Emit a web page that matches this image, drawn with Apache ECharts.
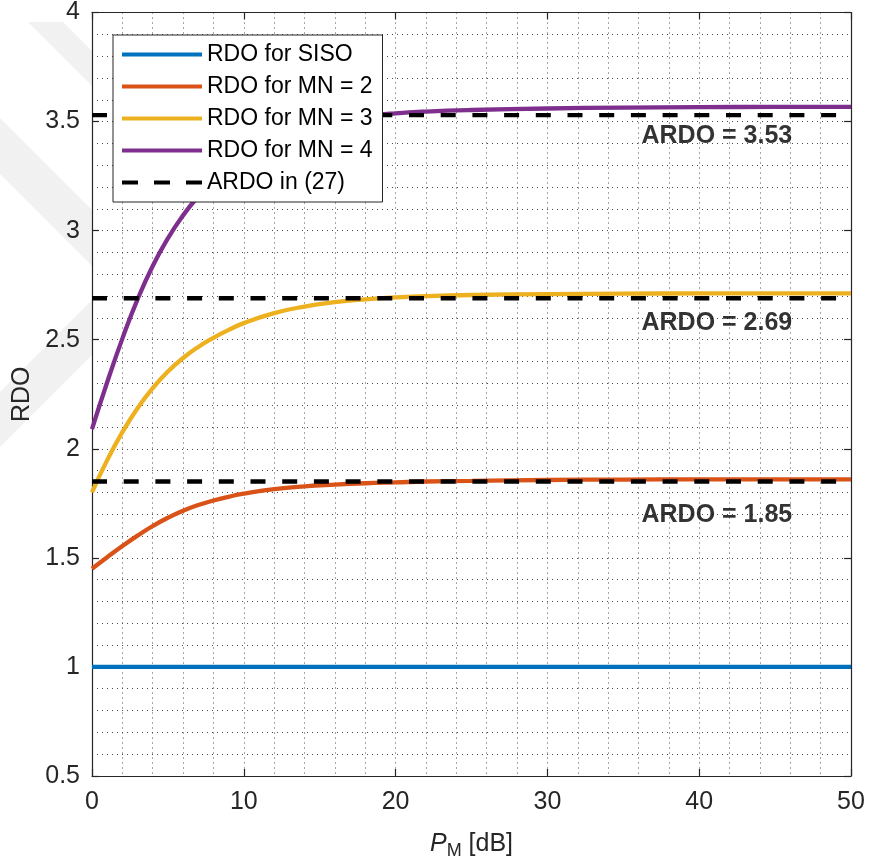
<!DOCTYPE html>
<html>
<head>
<meta charset="utf-8">
<script src="https://cdn.jsdelivr.net/npm/echarts@6/dist/echarts.min.js"></script>
<style>
  html, body { margin: 0; padding: 0; background: #fff; }
  #chart { width: 872px; height: 867px; }
</style>
</head>
<body>
<div id="chart"></div>
<script>
// ---- data ----
const pm = [0, 1, 2, 3, 4, 5, 6, 7, 8, 9, 10, 12, 14, 16, 18, 20, 22, 25, 30, 35, 40, 45, 50];
const rdoMN2 = [1.45, 1.503, 1.554, 1.602, 1.646, 1.684, 1.716, 1.742, 1.763, 1.780, 1.794, 1.815, 1.828, 1.836, 1.842, 1.846, 1.850, 1.853, 1.857, 1.859, 1.86, 1.86, 1.86];
const rdoMN3 = [1.80, 1.948, 2.076, 2.186, 2.278, 2.354, 2.416, 2.467, 2.509, 2.545, 2.576, 2.622, 2.652, 2.672, 2.685, 2.694, 2.700, 2.705, 2.709, 2.711, 2.712, 2.712, 2.712];
const rdoMN4 = [2.09, 2.305, 2.505, 2.685, 2.838, 2.965, 3.07, 3.158, 3.232, 3.294, 3.346, 3.425, 3.474, 3.505, 3.525, 3.538, 3.546, 3.553, 3.56, 3.564, 3.566, 3.567, 3.567];
const sisoX = [0, 50];
const rdoSISO = [1, 1];
const ardoValues = [3.53, 2.69, 1.85];
const ardoX = [0, 50];
const annoText = ['ARDO = 3.53', 'ARDO = 2.69', 'ARDO = 1.85'];
const annoX = [36.2, 36.2, 36.2];
const annoY = [3.432, 2.577, 1.694];
const xTicks = [0, 10, 20, 30, 40, 50];
const yTicks = [0.5, 1, 1.5, 2, 2.5, 3, 3.5, 4];
const seriesNames = ['RDO for SISO', 'RDO for MN = 2', 'RDO for MN = 3', 'RDO for MN = 4', 'ARDO in (27)'];
const colors = ['#0072BD', '#D95319', '#EDB120', '#7E2F8E', '#000000'];

const FONT = '"Liberation Sans", Arial, Helvetica, sans-serif';
const AXC = '#262626';
const GRIDC = '#4a4a4a';

function pairs(xs, ys) { return xs.map((x, i) => [x, ys[i]]); }

const chart = echarts.init(document.getElementById('chart'), null, { renderer: 'canvas' });

const dottedMajor = { show: true, lineStyle: { color: GRIDC, width: 1, type: [1, 4] } };
const dottedMinor = { show: true, lineStyle: { color: GRIDC, width: 1, type: [1, 4] } };

function curve(name, ys, color) {
  return {
    name: name, type: 'line', xAxisIndex: 0, yAxisIndex: 0,
    data: pairs(pm, ys), symbol: 'none', showSymbol: false,
    smooth: 0.5,
    lineStyle: { color: color, width: 4.3 }, itemStyle: { color: color },
    emphasis: { disabled: true }, silent: true, z: 3
  };
}

const series = [
  {
    name: seriesNames[0], type: 'line', data: pairs(sisoX, rdoSISO), symbol: 'none',
    lineStyle: { color: colors[0], width: 4.3 }, itemStyle: { color: colors[0] },
    emphasis: { disabled: true }, silent: true, z: 3
  },
  curve(seriesNames[1], rdoMN2, colors[1]),
  curve(seriesNames[2], rdoMN3, colors[2]),
  curve(seriesNames[3], rdoMN4, colors[3])
];
ardoValues.forEach(v => {
  series.push({
    name: seriesNames[4], type: 'line', data: pairs(ardoX, [v, v]), symbol: 'none',
    lineStyle: { color: colors[4], width: 4.3, type: [15, 16.7] }, itemStyle: { color: colors[4] },
    emphasis: { disabled: true }, silent: true, z: 4
  });
});
series.push({
  name: 'annotations', type: 'scatter', data: pairs(annoX, annoY), symbolSize: 0,
  silent: true, z: 5,
  label: {
    show: true, position: 'inside', align: 'left', verticalAlign: 'middle',
    formatter: p => annoText[p.dataIndex],
    color: '#000', fontFamily: FONT, fontWeight: 'bold', fontSize: 25
  }
});

const dashIcon = 'path://M0,0H16V4H0Z M32,0H48V4H32Z M64,0H80V4H64Z';

const option = {
  animation: false,
  backgroundColor: '#fff',
  textStyle: { fontFamily: FONT },
  graphic: [
    { type: 'polygon', z: -10, silent: true, shape: { points: [[28, 22], [63, 22], [92, 51], [92, 86]] }, style: { fill: '#f1f1f1' } },
    { type: 'polygon', z: -10, silent: true, shape: { points: [[0, 118], [0, 174], [92, 266], [92, 210]] }, style: { fill: '#f1f1f1' } },
    { type: 'polygon', z: -10, silent: true, shape: { points: [[92, 300], [92, 355], [0, 447], [0, 392]] }, style: { fill: '#f1f1f1' } }
  ],
  grid: { left: 92, right: 21, top: 11, bottom: 91, containLabel: false, show: true, backgroundColor: '#fff', borderWidth: 0 },
  legend: {
    data: [
      { name: seriesNames[0], icon: 'rect' },
      { name: seriesNames[1], icon: 'rect' },
      { name: seriesNames[2], icon: 'rect' },
      { name: seriesNames[3], icon: 'rect' },
      { name: seriesNames[4], icon: dashIcon }
    ],
    z: 20,
    orient: 'vertical', left: 113, top: 35,
    padding: [8, 10, 8, 9], itemGap: 9, itemWidth: 80, itemHeight: 4,
    backgroundColor: '#fff', borderColor: AXC, borderWidth: 1, borderRadius: 0,
    selectedMode: false,
    itemStyle: { borderWidth: 0 },
    textStyle: { fontFamily: FONT, fontSize: 23, lineHeight: 23, color: '#000' }
  },
  xAxis: [
    {
      type: 'value', min: 0, max: 50, interval: 10, position: 'bottom',
      name: '{i|P}{s|M} [dB]', nameLocation: 'middle', nameGap: 52,
      nameTextStyle: {
        color: AXC, fontFamily: FONT, fontSize: 25,
        rich: {
          i: { fontStyle: 'italic', fontSize: 25, fontFamily: FONT, color: AXC },
          s: { fontSize: 18, fontFamily: FONT, color: AXC, verticalAlign: 'bottom', padding: [14, 0, 0, 0] }
        }
      },
      axisLine: { show: true, onZero: false, lineStyle: { color: AXC, width: 1.2 } },
      axisTick: { show: true, inside: true, length: 7, lineStyle: { color: AXC, width: 1.2 } },
      axisLabel: { show: true, margin: 14, color: AXC, fontFamily: FONT, fontSize: 25,
                   formatter: v => (xTicks.indexOf(v) >= 0 ? String(v) : '') },
      splitLine: dottedMajor,
      minorTick: { show: false, splitNumber: 5 },
      minorSplitLine: dottedMinor
    },
    {
      type: 'value', min: 0, max: 50, interval: 10, position: 'top',
      axisLine: { show: true, onZero: false, lineStyle: { color: AXC, width: 1.2 } },
      axisTick: { show: true, inside: true, length: 7, lineStyle: { color: AXC, width: 1.2 } },
      axisLabel: { show: false }, splitLine: { show: false }
    }
  ],
  yAxis: [
    {
      type: 'value', min: 0.5, max: 4, interval: 0.5, position: 'left',
      name: 'RDO', nameLocation: 'middle', nameGap: 56,
      nameTextStyle: { color: AXC, fontFamily: FONT, fontSize: 25 },
      axisLine: { show: true, onZero: false, lineStyle: { color: AXC, width: 1.2 } },
      axisTick: { show: true, inside: true, length: 7, lineStyle: { color: AXC, width: 1.2 } },
      axisLabel: { show: true, margin: 12, color: AXC, fontFamily: FONT, fontSize: 25,
                   formatter: v => { const t = yTicks.find(q => Math.abs(q - v) < 1e-9); return t === undefined ? '' : String(t); } },
      splitLine: dottedMajor,
      minorTick: { show: false, splitNumber: 5 },
      minorSplitLine: dottedMinor
    },
    {
      type: 'value', min: 0.5, max: 4, interval: 0.5, position: 'right',
      axisLine: { show: true, onZero: false, lineStyle: { color: AXC, width: 1.2 } },
      axisTick: { show: true, inside: true, length: 7, lineStyle: { color: AXC, width: 1.2 } },
      axisLabel: { show: false }, splitLine: { show: false }
    }
  ],
  series: series
};

chart.setOption(option);
</script>
</body>
</html>
